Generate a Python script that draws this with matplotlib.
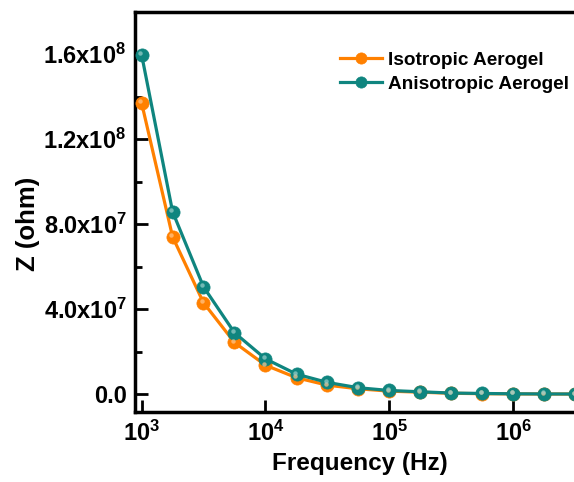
import matplotlib
matplotlib.use("Agg")
import matplotlib.pyplot as plt
import matplotlib.transforms as mtransforms
from matplotlib.ticker import MultipleLocator, NullLocator

plt.rcParams['font.family'] = ['Liberation Sans', 'DejaVu Sans']
plt.rcParams['font.weight'] = 'bold'
plt.rcParams['mathtext.fontset'] = 'custom'
plt.rcParams['mathtext.rm'] = 'Liberation Sans:bold'
plt.rcParams['mathtext.bf'] = 'Liberation Sans:bold'
plt.rcParams['mathtext.default'] = 'bf'
plt.rcParams['xtick.direction'] = 'in'
plt.rcParams['ytick.direction'] = 'in'

frequency = [1.0e3, 1.78e3, 3.16e3, 5.62e3, 1.0e4, 1.78e4, 3.16e4, 5.62e4,
             1.0e5, 1.78e5, 3.16e5, 5.62e5, 1.0e6, 1.78e6, 3.16e6]
isotropic = [1.371e8, 7.40e7, 4.30e7, 2.43e7, 1.36e7, 7.7e6, 4.2e6, 2.5e6,
             1.4e6, 0.9e6, 0.4e6, 0.2e6, 0.1e6, 0.05e6, 0.03e6]
anisotropic = [1.598e8, 8.58e7, 5.05e7, 2.89e7, 1.66e7, 9.4e6, 5.5e6, 3.0e6,
               1.7e6, 1.1e6, 0.5e6, 0.3e6, 0.15e6, 0.08e6, 0.05e6]
labels = ["Isotropic Aerogel", "Anisotropic Aerogel"]
colors = ["#FF8000", "#0F857F"]
highlights = ["#FFC890", "#9CD0CC"]
yticks = [0.0, 4.0e7, 8.0e7, 1.2e8, 1.6e8]
ytick_labels = ["0.0", "4.0x10$^7$", "8.0x10$^7$", "1.2x10$^8$", "1.6x10$^8$"]
xticks = [1e3, 1e4, 1e5, 1e6]
xtick_labels = ["10$^3$", "10$^4$", "10$^5$", "10$^6$"]

fig = plt.figure(figsize=(5.74, 4.82), dpi=100)
ax = fig.add_axes([0.235, 0.145, 0.765, 0.830])

hl_trans = mtransforms.offset_copy(ax.transData, fig=fig, x=-1.5, y=1.5, units='dots')
for ys, lab, c, h in zip([isotropic, anisotropic], labels, colors, highlights):
    ax.plot(frequency, ys, '-', color=c, lw=2.3, marker='o', ms=9.5,
            markerfacecolor=c, markeredgecolor=c, markeredgewidth=0.5,
            label=lab, zorder=3)
    ax.plot(frequency, ys, 'o', ms=3.2, markerfacecolor=h, alpha=0.7,
            markeredgewidth=0, zorder=4, transform=hl_trans)

ax.set_xscale('log')
ax.set_xlim(10**2.946, 10**6.49)
ax.set_ylim(-0.847e7, 1.798e8)

ax.set_xticks(xticks)
ax.set_xticklabels(xtick_labels)
ax.xaxis.set_minor_locator(NullLocator())
ax.set_yticks(yticks)
ax.set_yticklabels(ytick_labels)
ax.yaxis.set_minor_locator(MultipleLocator(2e7))

ax.tick_params(axis='both', which='major', direction='in', length=9, width=2,
               labelsize=17, pad=6)
ax.tick_params(axis='y', which='minor', direction='in', length=5, width=2)
for s in ['left', 'bottom', 'top']:
    ax.spines[s].set_linewidth(2.5)
ax.spines['right'].set_visible(False)

ax.set_xlabel("Frequency (Hz)", fontsize=17.5, fontweight='bold')
ax.xaxis.set_label_coords(0.513, -0.1)
ax.set_ylabel("Z (ohm)", fontsize=18.5, fontweight='bold')
ax.yaxis.set_label_coords(-0.216, 0.47)

leg = ax.legend(loc='upper right', bbox_to_anchor=(1.014, 0.93), frameon=False,
                fontsize=13.7, handlelength=2.2, handletextpad=0.3,
                labelspacing=0.35, borderaxespad=0.2, markerscale=0.85)

fig.savefig("out.png", dpi=100)
